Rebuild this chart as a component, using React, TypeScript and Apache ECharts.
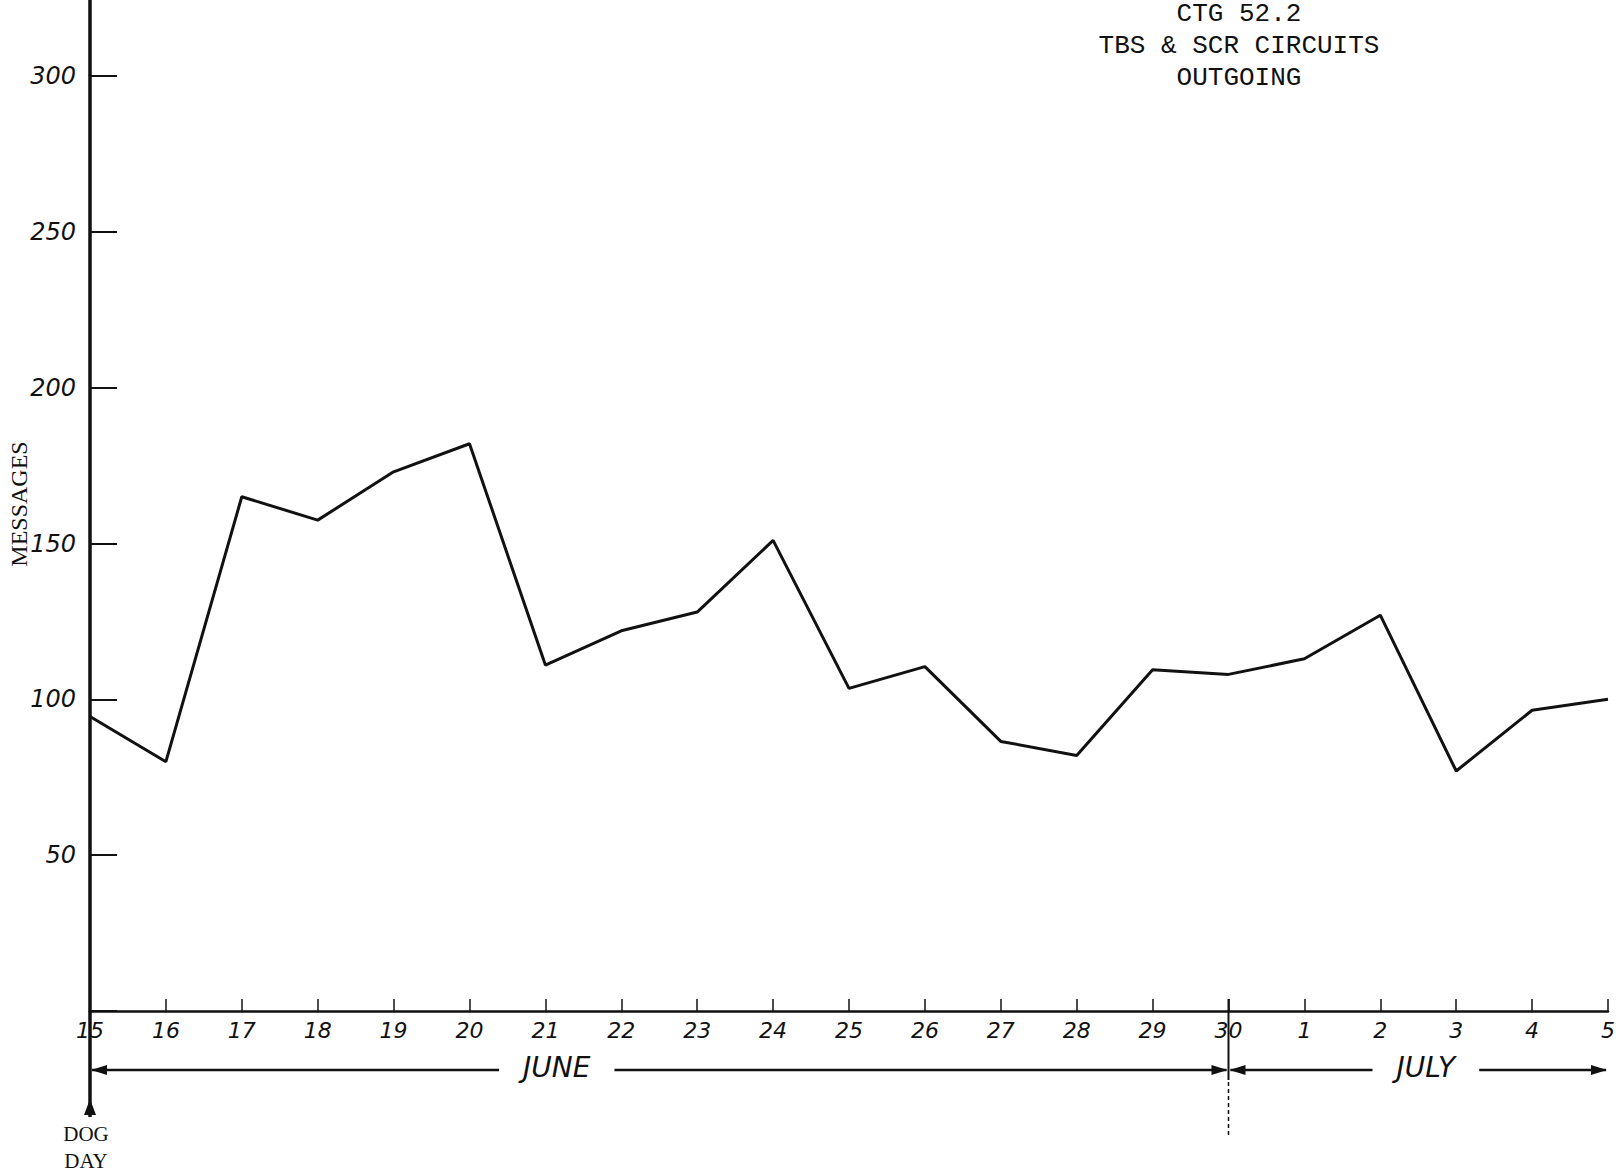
import React, { useEffect, useRef } from "react";
import * as echarts from "echarts";

const days = ["15", "16", "17", "18", "19", "20", "21", "22", "23", "24", "25", "26", "27", "28", "29", "30", "1", "2", "3", "4", "5"];
const messages = [94.5, 80, 165, 157.5, 173, 182, 111, 122, 128, 151, 103.5, 110.5, 86.5, 82, 109.5, 108, 113, 127, 77, 96.5, 100];
const yTickValues = [50, 100, 150, 200, 250, 300];
const titleLines = ["CTG 52.2", "TBS & SCR CIRCUITS", "OUTGOING"];
const yAxisTitle = "MESSAGES";
const monthNames = ["JUNE", "JULY"];
const monthFromDay = ["15", "30"];
const monthToDay = ["30", "5"];
const startNote = ["DOG", "DAY"];

const HAND = "'DejaVu Sans', sans-serif";
const TYPE = "'Liberation Mono', monospace";
const SERIF = "'Liberation Serif', serif";
const INK = "#111";

export default function App() {
  const ref = useRef<HTMLDivElement>(null);
  useEffect(() => {
    document.body.style.margin = "0";
    document.body.style.overflow = "hidden";
    document.documentElement.style.overflow = "hidden";
    const chart = echarts.init(ref.current!, null, { renderer: "svg", width: 1618, height: 1176 });
    chart.setOption({
      animation: false,
      backgroundColor: "#fff",
      grid: { left: 90, right: 0, top: 76, bottom: 165, containLabel: false },
      xAxis: {
        type: "category",
        data: days,
        boundaryGap: false,
        axisLine: { lineStyle: { color: INK, width: 2.5 } },
        axisTick: { inside: true, length: 12, lineStyle: { color: INK, width: 1.5 } },
        axisLabel: { color: INK, fontFamily: HAND, fontStyle: "italic", fontSize: 22, margin: 8, interval: 0 },
        splitLine: { show: false },
      },
      yAxis: {
        type: "value",
        min: 0,
        max: 300,
        interval: 50,
        axisLine: { show: true, lineStyle: { color: INK, width: 3.5 } },
        axisTick: { show: true, inside: true, length: 27, lineStyle: { color: INK, width: 2 } },
        axisLabel: {
          color: INK,
          fontFamily: HAND,
          fontStyle: "italic",
          fontSize: 24,
          margin: 14,
          formatter: (v: number) => (yTickValues.indexOf(v) >= 0 ? String(v) : ""),
        },
        splitLine: { show: false },
      },
      series: [
        {
          type: "line",
          data: messages,
          showSymbol: false,
          symbol: "none",
          lineStyle: { color: INK, width: 3 },
        },
      ],
    });

    const xAt = (d: string) => chart.convertToPixel({ xAxisIndex: 0 }, days.indexOf(d)) as number;
    const y0 = chart.convertToPixel({ yAxisIndex: 0 }, 0) as number;
    const yTop = chart.convertToPixel({ yAxisIndex: 0 }, yTickValues[yTickValues.length - 1]) as number;
    const x0 = xAt(days[0]);
    const bandY = y0 + 59;
    const graphics: any[] = [];

    // y axis line continues above the top tick
    graphics.push({
      type: "line",
      shape: { x1: x0, y1: 0, x2: x0, y2: yTop },
      style: { stroke: INK, lineWidth: 3.5 },
    });

    // title
    titleLines.forEach((t, i) => {
      graphics.push({
        type: "text",
        x: 1239,
        y: 14 + i * 32,
        style: { text: t, font: `26px ${TYPE}`, fill: INK, align: "center", verticalAlign: "middle" },
      });
    });

    // y axis title
    graphics.push({
      type: "text",
      x: 19,
      y: 504,
      rotation: Math.PI / 2,
      style: { text: yAxisTitle, font: `24px ${SERIF}`, fill: INK, align: "center", verticalAlign: "middle" },
    });

    // month bands
    const arrow = (x: number, dir: number) => ({
      type: "polygon",
      shape: { points: [[x, bandY], [x - dir * 16, bandY - 5], [x - dir * 16, bandY + 5]] },
      style: { fill: INK },
    });
    monthNames.forEach((m, i) => {
      const xs = xAt(monthFromDay[i]);
      const xe = Math.min(xAt(monthToDay[i]), 1616);
      const frac = i === 0 ? 0.41 : 0.52;
      const xm = xs + (xe - xs) * frac;
      graphics.push({
        type: "line",
        shape: { x1: xs + 2, y1: bandY, x2: xe - 2, y2: bandY },
        style: { stroke: INK, lineWidth: 2.5 },
      });
      graphics.push(arrow(xs + 1, -1));
      graphics.push(arrow(xe - 1, 1));
      graphics.push({
        type: "text",
        x: xm,
        y: bandY - 3,
        style: {
          text: m,
          font: `italic 28px ${HAND}`,
          fill: INK,
          align: "center",
          verticalAlign: "middle",
          backgroundColor: "#fff",
          padding: [4, 24],
        },
      });
    });

    // divider between months
    const xd = xAt(monthToDay[0]);
    graphics.push({
      type: "line",
      shape: { x1: xd, y1: y0 - 12, x2: xd, y2: bandY + 10 },
      style: { stroke: INK, lineWidth: 2 },
    });
    graphics.push({
      type: "line",
      shape: { x1: xd, y1: bandY + 12, x2: xd, y2: y0 + 126 },
      style: { stroke: INK, lineWidth: 1.5, lineDash: [4, 3] },
    });

    // start marker (y axis continues down to DOG DAY)
    graphics.push({
      type: "line",
      shape: { x1: x0, y1: y0, x2: x0, y2: y0 + 106 },
      style: { stroke: INK, lineWidth: 3.5 },
    });
    graphics.push({
      type: "polygon",
      shape: { points: [[x0, y0 + 88], [x0 - 6, y0 + 104], [x0 + 6, y0 + 104]] },
      style: { fill: INK },
    });
    graphics.push({
      type: "text",
      x: x0 - 4,
      y: y0 + 109,
      style: { text: startNote.join("\n"), font: `21px ${SERIF}`, fill: INK, align: "center", verticalAlign: "top", lineHeight: 27 },
    });

    chart.setOption({ graphic: graphics });
    return () => chart.dispose();
  }, []);
  return <div ref={ref} style={{ width: 1618, height: 1176 }} />;
}
